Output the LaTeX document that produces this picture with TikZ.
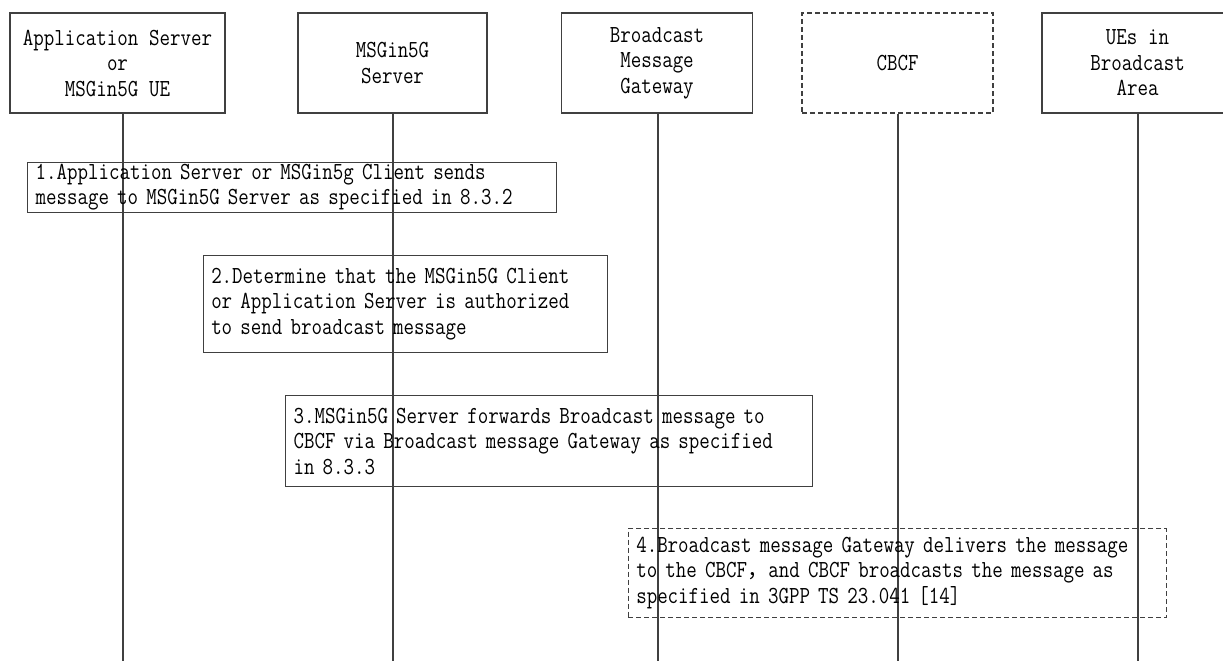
\documentclass[tikz,border=0pt]{standalone}
\usepackage{fontspec}
\newfontfamily\cjk{Noto Sans CJK SC}
\newfontfamily\lmt[FakeStretch=0.8319]{Latin Modern Mono}
\newcommand\fs{\lmt\fontsize{24.5pt}{25.5pt}\selectfont\frenchspacing\spaceskip=10.7pt\relax\xspaceskip=10.7pt\relax}
\newcommand\fwcomma{{\cjk\fontsize{21.4pt}{25.5pt}\selectfont ，}}
\tikzset{
  ln/.style={draw=black!75, line width=1.1pt},
  dsh/.style={dash pattern=on 5pt off 3pt},
  head/.style={ln, minimum height=100pt, align=center, inner sep=0pt, font=\fs},
  msg/.style={ln, anchor=north west, align=left, inner xsep=8pt, inner ysep=0pt, font=\fs}
}
\begin{document}
\begin{tikzpicture}[x=1pt,y=-1pt]
\useasboundingbox (0,0) rectangle (1223,661);
% heads
\node[head, minimum width=215pt] (h1) at (117.5,63) {Application Server\\or\\MSGin5G UE};
\node[head, minimum width=189pt] (h2) at (392.5,63) {MSGin5G\\Server};
\node[head, minimum width=191pt] (h3) at (657,63) {Broadcast\\Message\\Gateway};
\node[head, dsh, minimum width=191pt] (h4) at (897.5,63) {CBCF};
\node[head, minimum width=191pt] (h5) at (1137.5,63) {UEs in\\Broadcast\\Area};
% lifeline ends
\coordinate (b1) at (123,661);
\coordinate (b2) at (393,661);
\coordinate (b3) at (658,661);
\coordinate (b4) at (898,661);
\coordinate (b5) at (1138,661);
\draw[ln] (h1.south -| b1) -- (b1);
\draw[ln] (h2.south -| b2) -- (b2);
\draw[ln] (h3.south -| b3) -- (b3);
\draw[ln] (h4.south -| b4) -- (b4);
\draw[ln] (h5.south -| b5) -- (b5);
% message boxes
\node[msg, text width=513pt, minimum height=50pt] (m1) at (27,161.7)
  {1.Application Server or MSGin5g Client sends\\message to MSGin5G Server as specified in 8.3.2};
\node[msg, text width=388pt, minimum height=97pt] (m2) at (202.7,255)
  {2.Determine that the MSGin5G Client\\or Application Server is authorized\\to send broadcast message};
\node[msg, text width=511pt, minimum height=91pt] (m3) at (285,395)
  {3.MSGin5G Server forwards Broadcast message to\\CBCF via Broadcast message Gateway as specified\\in 8.3.3};
\node[msg, dsh, text width=522pt, minimum height=89pt] (m4) at (627.7,528)
  {4.Broadcast message Gateway delivers the message\\to the CBCF\fwcomma and CBCF broadcasts the message as\\specified in 3GPP TS 23.041 [14]};
\end{tikzpicture}
\end{document}
